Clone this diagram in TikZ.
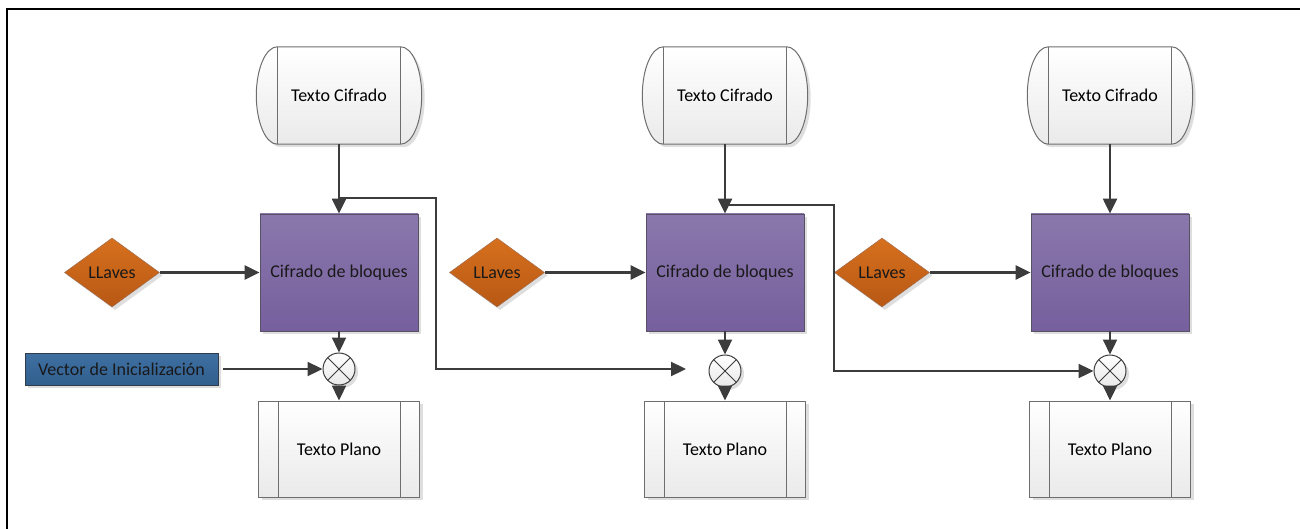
\documentclass[tikz,border=0pt]{standalone}
\usepackage{fontspec}
\setmainfont{Carlito}
\usetikzlibrary{arrows.meta,shapes.geometric,shadows,calc}
\pgfdeclarelayer{bg}
\pgfsetlayers{bg,main}

\definecolor{linec}{RGB}{60,60,60}
\definecolor{edgec}{RGB}{110,110,110}
\definecolor{paletop}{RGB}{255,255,255}
\definecolor{palebot}{RGB}{234,234,234}
\definecolor{purtop}{RGB}{138,120,172}
\definecolor{purbot}{RGB}{118,95,157}
\definecolor{purdraw}{RGB}{88,80,100}
\definecolor{orgtop}{RGB}{214,112,30}
\definecolor{orgbot}{RGB}{184,88,20}
\definecolor{orgdraw}{RGB}{160,110,80}
\definecolor{blutop}{RGB}{64,112,162}
\definecolor{blubot}{RGB}{48,95,142}
\definecolor{bludraw}{RGB}{50,60,75}

% drum (horizontal cylinder) outline around a named node
\newcommand\drumoutline[1]{%
  \path[drumfill]
    ([xshift=21pt]#1.north west) -- ([xshift=-21pt]#1.north east)
    .. controls ([xshift=-9.4pt]#1.north east) and ([yshift=26.8pt]#1.east) .. (#1.east)
    .. controls ([yshift=-26.8pt]#1.east) and ([xshift=-9.4pt]#1.south east) .. ([xshift=-21pt]#1.south east)
    -- ([xshift=21pt]#1.south west)
    .. controls ([xshift=9.4pt]#1.south west) and ([yshift=-26.8pt]#1.west) .. (#1.west)
    .. controls ([yshift=26.8pt]#1.west) and ([xshift=9.4pt]#1.north west) .. cycle;
  \draw[inner edge] ([xshift=21pt]#1.north west) -- ([xshift=21pt]#1.south west);
  \draw[inner edge] ([xshift=-21pt]#1.north east) -- ([xshift=-21pt]#1.south east);
}
% side bars of a predefined-process box
\newcommand\sidebars[1]{%
  \draw[inner edge] ([xshift=20pt]#1.north west) -- ([xshift=20pt]#1.south west);
  \draw[inner edge] ([xshift=-20pt]#1.north east) -- ([xshift=-20pt]#1.south east);
}

\begin{document}
\begin{tikzpicture}[x=1pt,y=-1pt,
  font=\fontsize{18}{21}\selectfont,
  softshadow/.style={drop shadow={shadow xshift=3pt,shadow yshift=-3pt,opacity=0.13,fill=black}},
  conn/.style={draw=linec,line width=2.3pt,-{Triangle[length=15pt,width=14pt]}},
  inner edge/.style={draw=edgec,line width=1pt},
  drumnode/.style={minimum width=165pt,minimum height=97pt,inner sep=0pt},
  drumfill/.style={draw=edgec,line width=1pt,top color=paletop,bottom color=palebot,softshadow},
  plainbox/.style={rectangle,draw=edgec,line width=1pt,top color=paletop,bottom color=palebot,
    minimum width=161pt,minimum height=96pt,inner sep=0pt,softshadow},
  cipher/.style={rectangle,draw=purdraw,line width=0.8pt,top color=purtop,bottom color=purbot,
    minimum width=158pt,minimum height=117pt,inner sep=0pt,text=black!90,softshadow},
  keynode/.style={diamond,draw=orgdraw,line width=0.5pt,top color=orgtop,bottom color=orgbot,
    minimum width=95pt,minimum height=69pt,inner sep=0pt,text=black!90,softshadow},
  ivbox/.style={rectangle,draw=bludraw,line width=0.8pt,top color=blutop,bottom color=blubot,
    minimum width=193pt,minimum height=32pt,inner sep=0pt,text=black!90,softshadow},
  xor/.style={circle,draw=linec,line width=1pt,minimum size=32pt,inner sep=0pt,
    top color=white,bottom color=gray!18,softshadow,
    path picture={\draw[linec,line width=0.9pt]
      (path picture bounding box.north west) -- (path picture bounding box.south east)
      (path picture bounding box.north east) -- (path picture bounding box.south west);}}
  ]
\useasboundingbox (0,0) rectangle (1300,529);

% page frame (top and left edges)
\draw[black,line width=2.4pt] (7,529) -- (7,9) -- (1300,9);

% ---- column 1 ----
\node[drumnode] (tc1) at (339,95.5) {Texto Cifrado};
\node[cipher] (cb1) at (339,272.5) {Cifrado de bloques};
\node[keynode] (k1) at (112,272.5) {LLaves};
\node[xor] (x1) at (339,369) {};
\node[plainbox] (tp1) at (339,449) {Texto Plano};
\node[ivbox] (iv) at (121.5,369) {Vector de Inicialización};

% ---- column 2 ----
\node[drumnode] (tc2) at (725,95.5) {Texto Cifrado};
\node[cipher] (cb2) at (725,272.5) {Cifrado de bloques};
\node[keynode] (k2) at (497,272.5) {LLaves};
\node[xor] (x2) at (725,371) {};
\node[plainbox] (tp2) at (725,449) {Texto Plano};

% ---- column 3 ----
\node[drumnode] (tc3) at (1110,95.5) {Texto Cifrado};
\node[cipher] (cb3) at (1110,272.5) {Cifrado de bloques};
\node[keynode] (k3) at (882,272.5) {LLaves};
\node[xor] (x3) at (1110,371) {};
\node[plainbox] (tp3) at (1110,449) {Texto Plano};

\begin{pgfonlayer}{bg}
  \drumoutline{tc1}
  \drumoutline{tc2}
  \drumoutline{tc3}
\end{pgfonlayer}
\sidebars{tp1}
\sidebars{tp2}
\sidebars{tp3}

% junctions on the ciphertext lines and the free arrow end before the second XOR
\coordinate (j1) at (339,198);
\coordinate (j2) at (725,205);
\coordinate (x2in) at (686,369);

% connectors
\foreach \i in {1,2,3}{
  \draw[conn] (tc\i.south) -- (cb\i.north);
  \draw[conn] (k\i.east) -- (cb\i.west);
  \draw[conn] (cb\i.south) -- (x\i.north);
  \draw[conn] (x\i.south) -- (tp\i.north);
}
\draw[conn,shorten <=5pt] (iv.east) -- (x1.west);
\draw[conn] (j1) -- ++(97,0) |- (x2in);
\draw[conn] (j2) -- ++(109,0) |- (x3.west);
\end{tikzpicture}
\end{document}
